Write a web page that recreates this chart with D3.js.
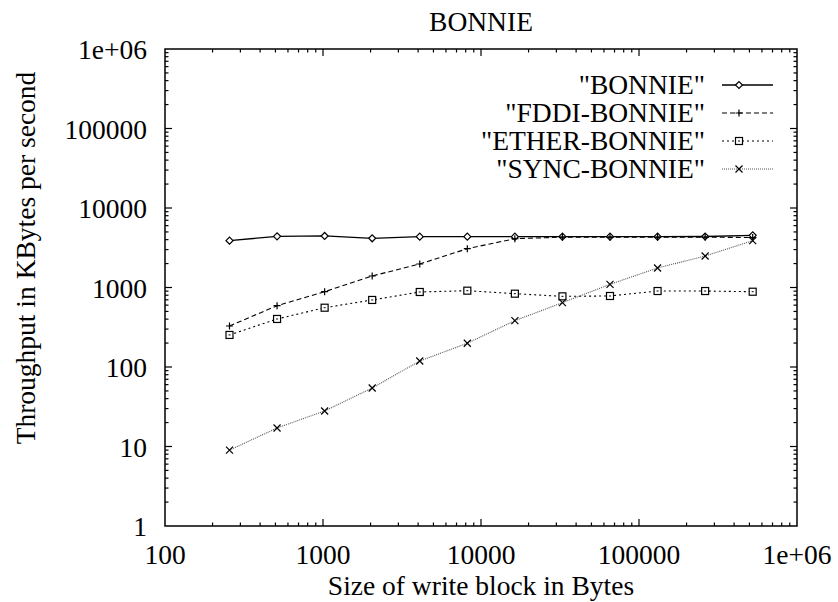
<!DOCTYPE html>
<html>
<head>
<meta charset="utf-8">
<script src="https://cdn.jsdelivr.net/npm/d3@7"></script>
<style>
  html, body { margin: 0; padding: 0; background: #fff; }
  svg text { font-family: "Liberation Serif", "DejaVu Serif", serif; fill: #000; }
</style>
</head>
<body>
<svg id="chart" width="838" height="602"></svg>
<script>
// Write block sizes (bytes)
const blockSizes = [256, 512, 1024, 2048, 4096, 8192, 16384, 32768, 65536, 131072, 262144, 524288];

// Throughput in KBytes per second for each configuration
const bonnie      = [3880, 4400, 4450, 4160, 4360, 4360, 4360, 4360, 4360, 4360, 4380, 4530];
const fddiBonnie  = [328, 590, 885, 1396, 1976, 3076, 4110, 4300, 4300, 4300, 4300, 4250];
const etherBonnie = [253, 402, 557, 697, 878, 912, 836, 774, 782, 903, 903, 885];
const syncBonnie  = [9.0, 17.1, 28, 54.4, 119, 199, 383, 644, 1097, 1760, 2490, 3880];

const seriesNames = ['"BONNIE"', '"FDDI-BONNIE"', '"ETHER-BONNIE"', '"SYNC-BONNIE"'];

// Axis tick labels
const xTickValues = [100, 1000, 10000, 100000, 1000000];
const xTickLabels = ["100", "1000", "10000", "100000", "1e+06"];
const yTickValues = [1, 10, 100, 1000, 10000, 100000, 1000000];
const yTickLabels = ["1", "10", "100", "1000", "10000", "100000", "1e+06"];

const titleText = "BONNIE";
const xTitle = "Size of write block in Bytes";
const yTitle = "Throughput in KBytes per second";

const svg = d3.select("#chart");
const plotL = 165, plotR = 797, plotT = 49, plotB = 526;
const fontSize = 27.5;

const x = d3.scaleLog().domain([100, 1e6]).range([plotL, plotR]);
const y = d3.scaleLog().domain([1, 1e6]).range([plotB, plotT]);

// Minor ticks at 2..9 within each decade
function minorTicks(lo, hi) {
  const out = [];
  for (let d = lo; d < hi; d *= 10) {
    for (let k = 2; k <= 9; k++) out.push(d * k);
  }
  return out;
}

const axisColor = "#000";
const frame = svg.append("g");

// Ticks drawn inward on all four sides
const majorLen = 7, minorLen = 3.5;
const xMinor = minorTicks(100, 1e6);
const yMinor = minorTicks(1, 1e6);

function xTicks(vals, len) {
  vals.forEach(v => {
    const px = x(v);
    frame.append("line").attr("x1", px).attr("x2", px).attr("y1", plotB).attr("y2", plotB - len)
      .attr("stroke", axisColor).attr("stroke-width", 1.2);
    frame.append("line").attr("x1", px).attr("x2", px).attr("y1", plotT).attr("y2", plotT + len)
      .attr("stroke", axisColor).attr("stroke-width", 1.2);
  });
}
function yTicks(vals, len) {
  vals.forEach(v => {
    const py = y(v);
    frame.append("line").attr("x1", plotL).attr("x2", plotL + len).attr("y1", py).attr("y2", py)
      .attr("stroke", axisColor).attr("stroke-width", 1.2);
    frame.append("line").attr("x1", plotR).attr("x2", plotR - len).attr("y1", py).attr("y2", py)
      .attr("stroke", axisColor).attr("stroke-width", 1.2);
  });
}
xTicks(xTickValues.slice(1, -1), majorLen);
xTicks(xMinor, minorLen);
yTicks(yTickValues.slice(1, -1), majorLen);
yTicks(yMinor, minorLen);

frame.append("rect")
  .attr("x", plotL).attr("y", plotT)
  .attr("width", plotR - plotL).attr("height", plotB - plotT)
  .attr("fill", "none").attr("stroke", axisColor).attr("stroke-width", 1.5);

// Tick labels
svg.append("g").selectAll("text").data(xTickValues).join("text")
  .attr("x", d => x(d)).attr("y", plotB + 38)
  .attr("text-anchor", "middle").attr("font-size", fontSize)
  .text((d, i) => xTickLabels[i]);

svg.append("g").selectAll("text").data(yTickValues).join("text")
  .attr("x", 147).attr("y", d => y(d) + 10)
  .attr("text-anchor", "end").attr("font-size", fontSize)
  .text((d, i) => yTickLabels[i]);

// Titles
svg.append("text").attr("x", 481).attr("y", 31).attr("text-anchor", "middle")
  .attr("font-size", fontSize).text(titleText);
svg.append("text").attr("x", 481).attr("y", 594.5).attr("text-anchor", "middle")
  .attr("font-size", fontSize).text(xTitle);
svg.append("text").attr("transform", "translate(35,258) rotate(-90)").attr("text-anchor", "middle")
  .attr("font-size", fontSize).text(yTitle);

// Marker shapes
function drawMarker(g, kind, cx, cy) {
  const s = 3.5;
  if (kind === "diamond") {
    g.append("path").attr("d", `M${cx - s},${cy}L${cx},${cy - s}L${cx + s},${cy}L${cx},${cy + s}Z`)
      .attr("fill", "#fff").attr("stroke", "#000").attr("stroke-width", 1.2);
  } else if (kind === "plus") {
    g.append("path").attr("d", `M${cx - s},${cy}H${cx + s}M${cx},${cy - s}V${cy + s}`)
      .attr("stroke", "#000").attr("stroke-width", 1.2);
  } else if (kind === "square") {
    g.append("rect").attr("x", cx - s).attr("y", cy - s).attr("width", 2 * s).attr("height", 2 * s)
      .attr("fill", "#fff").attr("stroke", "#000").attr("stroke-width", 1.2);
    g.append("line").attr("x1", cx - 1).attr("x2", cx + 1).attr("y1", cy).attr("y2", cy)
      .attr("stroke", "#000").attr("stroke-width", 1);
  } else if (kind === "cross") {
    g.append("path").attr("d", `M${cx - s},${cy - s}L${cx + s},${cy + s}M${cx - s},${cy + s}L${cx + s},${cy - s}`)
      .attr("stroke", "#000").attr("stroke-width", 1.2);
  }
}

const series = [
  { name: seriesNames[0], values: bonnie,      marker: "diamond", dash: null,  color: "#000", width: 1.3 },
  { name: seriesNames[1], values: fddiBonnie,  marker: "plus",    dash: "5,3", color: "#000", width: 1.1 },
  { name: seriesNames[2], values: etherBonnie, marker: "square",  dash: "2,3", color: "#000", width: 1.1 },
  { name: seriesNames[3], values: syncBonnie,  marker: "cross",   dash: "1,1", color: "#555", width: 1.1 }
];

const line = d3.line().x(d => x(d[0])).y(d => y(d[1]));

series.forEach(s => {
  const pts = blockSizes.map((b, i) => [b, s.values[i]]);
  svg.append("path").datum(pts).attr("d", line)
    .attr("fill", "none").attr("stroke", s.color).attr("stroke-width", s.width)
    .attr("stroke-dasharray", s.dash);
  const g = svg.append("g");
  pts.forEach(p => drawMarker(g, s.marker, x(p[0]), y(p[1])));
});

// Legend
const legendRowY = [85, 113, 141, 169];
series.forEach((s, i) => {
  const ly = legendRowY[i];
  svg.append("text").attr("x", 705).attr("y", ly + 9).attr("text-anchor", "end")
    .attr("font-size", fontSize).text(s.name);
  svg.append("line").attr("x1", 722).attr("x2", 773).attr("y1", ly).attr("y2", ly)
    .attr("stroke", s.color).attr("stroke-width", s.width).attr("stroke-dasharray", s.dash);
  drawMarker(svg.append("g"), s.marker, 739, ly);
});
</script>
</body>
</html>
